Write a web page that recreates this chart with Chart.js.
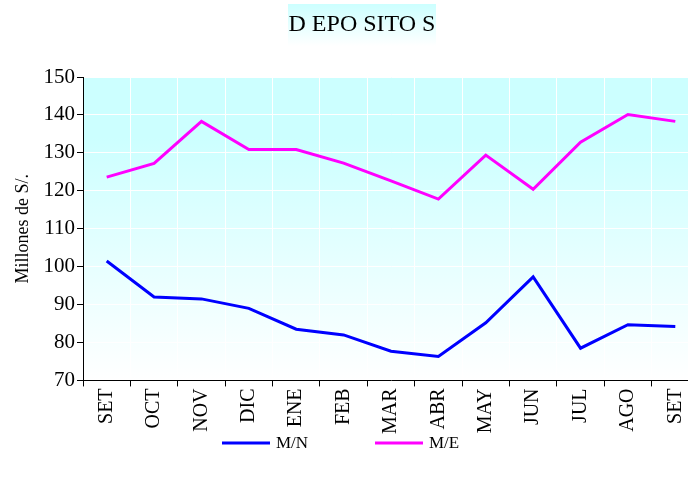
<!DOCTYPE html>
<html>
<head>
<meta charset="utf-8">
<script src="https://cdn.jsdelivr.net/npm/chart.js@4"></script>
<style>
  html, body { margin: 0; padding: 0; background: #fff; overflow: hidden; }
  /* canvas a bit wider than the window: the plot runs past the right edge in the original */
  #wrap { width: 699px; height: 479px; }
</style>
</head>
<body>
<div id="wrap"><canvas id="chart"></canvas></div>
<script>
const months = ["SET", "OCT", "NOV", "DIC", "ENE", "FEB", "MAR", "ABR", "MAY", "JUN", "JUL", "AGO", "SET"];
const mnValues = [101.5, 92.0, 91.5, 89.0, 83.5, 82.0, 77.7, 76.3, 85.2, 97.3, 78.5, 84.7, 84.2];
const meValues = [123.6, 127.2, 138.3, 130.9, 130.9, 127.3, 122.6, 117.8, 129.4, 120.4, 132.8, 140.1, 138.3];
const yTicks = [70, 80, 90, 100, 110, 120, 130, 140, 150];
const titleText = "D EPO SITO S";

const serif = "'Liberation Serif', 'Times New Roman', serif";

// gradient backgrounds + title box
const bgPlugin = {
  id: "bg",
  beforeDraw(chart) {
    const ctx = chart.ctx;
    const a = chart.chartArea;
    let g = ctx.createLinearGradient(0, a.top, 0, a.bottom);
    g.addColorStop(0, "#ccffff");
    g.addColorStop(0.2, "#ccffff");
    g.addColorStop(1, "#ffffff");
    ctx.save();
    ctx.fillStyle = g;
    ctx.fillRect(a.left, a.top, a.right - a.left, a.bottom - a.top);

    const cx = 362, bw = 148, top = 4, bh = 42;
    g = ctx.createLinearGradient(0, top, 0, top + bh);
    g.addColorStop(0, "#ccffff");
    g.addColorStop(1, "#ffffff");
    ctx.fillStyle = g;
    ctx.fillRect(cx - bw / 2, top, bw, bh);
    ctx.fillStyle = "#000";
    ctx.font = "24px " + serif;
    ctx.textAlign = "center";
    ctx.textBaseline = "middle";
    ctx.fillText(titleText, cx, 25);
    ctx.restore();
  }
};

// legend drawn by hand so the spacing matches
const legendPlugin = {
  id: "myLegend",
  afterDraw(chart) {
    const ctx = chart.ctx;
    const y = 443;
    let x = 222;
    ctx.save();
    ctx.font = "17px " + serif;
    ctx.textBaseline = "middle";
    chart.data.datasets.forEach((ds) => {
      ctx.strokeStyle = ds.borderColor;
      ctx.lineWidth = 3;
      ctx.beginPath();
      ctx.moveTo(x, y);
      ctx.lineTo(x + 48, y);
      ctx.stroke();
      ctx.fillStyle = "#000";
      ctx.fillText(ds.label, x + 54, y + 1);
      x += 153;
    });
    ctx.restore();
  }
};

const ctx = document.getElementById("chart").getContext("2d");
const chart = new Chart(ctx, {
  type: "line",
  data: {
    labels: months,
    datasets: [
      {
        label: "M/N",
        data: mnValues,
        borderColor: "#0000ff",
        backgroundColor: "#0000ff",
        borderWidth: 3,
        pointRadius: 0,
        tension: 0,
      },
      {
        label: "M/E",
        data: meValues,
        borderColor: "#ff00ff",
        backgroundColor: "#ff00ff",
        borderWidth: 3,
        pointRadius: 0,
        tension: 0,
      },
    ],
  },
  options: {
    responsive: true,
    maintainAspectRatio: false,
    animation: false,
    layout: { padding: { left: 4, right: 0, top: 77, bottom: 43 } },
    scales: {
      x: {
        offset: true,
        afterFit(scale) {
          scale.paddingRight = 0;
          scale.paddingLeft = 0;
        },
        grid: { color: "#ffffff", tickColor: "#000000", tickLength: 6, offset: true, lineWidth: 1 },
        border: { color: "#000000", width: 1 },
        ticks: {
          color: "#000000",
          font: { family: serif, size: 20 },
          minRotation: 90,
          maxRotation: 90,
          autoSkip: false,
          padding: 2,
        },
      },
      y: {
        min: 70,
        max: 150,
        afterBuildTicks(scale) {
          scale.ticks = yTicks.map((v) => ({ value: v }));
        },
        afterFit(scale) {
          scale.width = 79;
        },
        grid: { color: "#ffffff", tickColor: "#000000", tickLength: 6, lineWidth: 1 },
        border: { color: "#000000", width: 1 },
        ticks: {
          color: "#000000",
          font: { family: serif, size: 21 },
          padding: 2,
        },
        title: {
          display: true,
          text: "Millones de S/.",
          color: "#000000",
          font: { family: serif, size: 18 },
          padding: { top: 8, bottom: 0 },
        },
      },
    },
    plugins: {
      title: { display: false },
      legend: { display: false },
      tooltip: { enabled: false },
    },
  },
  plugins: [bgPlugin, legendPlugin],
});
</script>
</body>
</html>
